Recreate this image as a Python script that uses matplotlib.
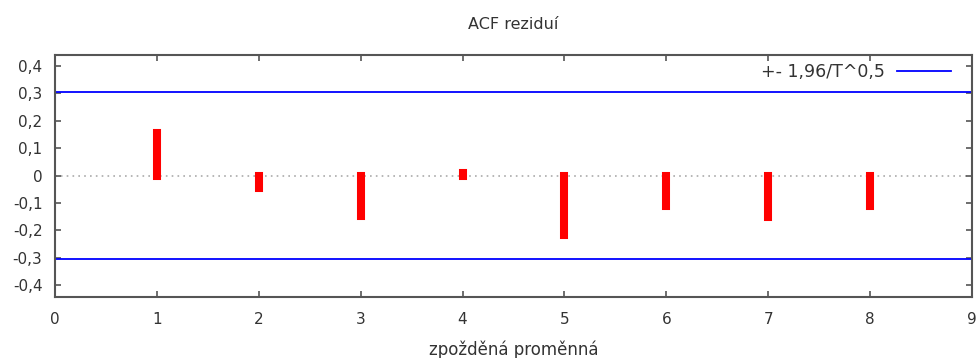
import matplotlib
matplotlib.use("Agg")
import matplotlib.pyplot as plt
import numpy as np

lags = [1, 2, 3, 4, 5, 6, 7, 8]
acf_values = [0.155, -0.045, -0.148, 0.009, -0.217, -0.111, -0.151, -0.111]
bound = 0.306
x_ticks = [0, 1, 2, 3, 4, 5, 6, 7, 8, 9]
y_ticks = [-0.4, -0.3, -0.2, -0.1, 0.0, 0.1, 0.2, 0.3, 0.4]
title = "ACF reziduí"
xlabel = "zpožděná proměnná"
legend_label = "+- 1,96/T^0,5"

def fmt(v):
    if abs(v) < 1e-9:
        return "0"
    return ("%.1f" % v).replace(".", ",")

plt.rcParams['font.family'] = ['DejaVu Sans']
text_col = "#333333"
fig = plt.figure(figsize=(9.8, 3.58), dpi=100)
ax = fig.add_axes([0.0561, 0.1712, 0.9357, 0.6752])

ax.axhline(0, color="#aaaaaa", linestyle=(0, (1, 2.5)), linewidth=1.2, zorder=1)
ax.vlines(lags, 0, acf_values, colors="red", linewidth=5.8, capstyle="projecting", zorder=3)
ax.axhline(bound, color="blue", linewidth=1.3, zorder=2, label=legend_label)
ax.axhline(-bound, color="blue", linewidth=1.3, zorder=2)

ax.set_xlim(0, 9)
ax.set_ylim(-0.442, 0.44)
ax.set_xticks(x_ticks)
ax.set_xticklabels([str(t) for t in x_ticks])
ax.set_yticks(y_ticks)
ax.set_yticklabels([fmt(v) for v in y_ticks])
ax.tick_params(direction="in", length=4, width=1.2, color="#555555", top=True, right=True,
               labelsize=11, labelcolor=text_col)
ax.tick_params(axis="x", pad=11)
ax.tick_params(axis="y", pad=9)
for s in ax.spines.values():
    s.set_color("#555555")
    s.set_linewidth(1.5)

ax.set_title(title, fontsize=11.5, color=text_col, pad=19)
ax.set_xlabel(xlabel, fontsize=12, color=text_col, labelpad=10)
leg = ax.legend(loc="upper right", frameon=False, markerfirst=False, fontsize=12.5,
                handlelength=3.1, handletextpad=0.7, borderpad=0, borderaxespad=0,
                bbox_to_anchor=(1 - 21 / 917, 1 - 8 / 242))
for t in leg.get_texts():
    t.set_color(text_col)

fig.savefig("out.png", dpi=100)
